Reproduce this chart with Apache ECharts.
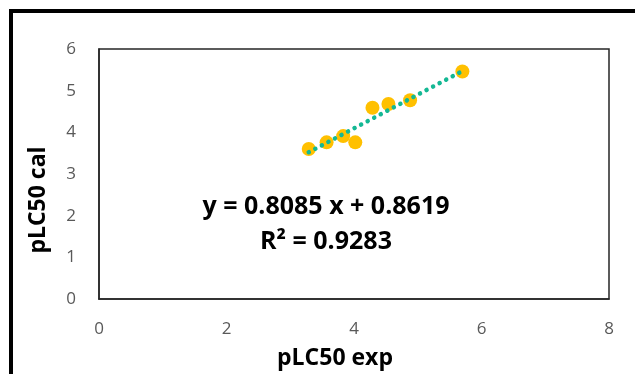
<!DOCTYPE html>
<html>
<head>
<meta charset="utf-8">
<script src="https://cdn.jsdelivr.net/npm/echarts@6/dist/echarts.min.js"></script>
<style>
  html, body { margin: 0; padding: 0; background: #fff; overflow: hidden; }
  #chart { width: 635px; height: 374px; }
</style>
</head>
<body>
<div id="chart"></div>
<script>
// Experimental vs calculated pLC50 values
const pLC50Exp = [3.29, 3.57, 3.83, 4.02, 4.29, 4.54, 4.88, 5.70];
const pLC50Cal = [3.60, 3.76, 3.91, 3.76, 4.59, 4.68, 4.77, 5.46];

// Linear fit reported on the chart
const fitSlope = 0.8085;
const fitIntercept = 0.8619;
const fitR2 = 0.9283;

const xTicks = [0, 2, 4, 6, 8];
const yTicks = [0, 1, 2, 3, 4, 5, 6];

const xTitle = 'pLC50 exp';
const yTitle = 'pLC50 cal';

const points = pLC50Exp.map((x, i) => [x, pLC50Cal[i]]);
const xMin = Math.min(...pLC50Exp);
const xMax = Math.max(...pLC50Exp);
const fitLine = [xMin, xMax].map(x => [x, fitSlope * x + fitIntercept]);

const chart = echarts.init(document.getElementById('chart'), null, { renderer: 'canvas' });

const tickFont = { color: '#595959', fontSize: 17, fontFamily: 'Open Sans' };
const titleFont = 'bold 23px "Open Sans"';
const fitFont = 'bold 25px "Open Sans"';

chart.setOption({
  animation: false,
  backgroundColor: '#ffffff',
  grid: {
    left: 99, top: 49, right: 26, bottom: 75,
    show: true, borderColor: '#262626', borderWidth: 1.5
  },
  xAxis: {
    type: 'value',
    min: xTicks[0], max: xTicks[xTicks.length - 1], interval: 2,
    axisLine: { show: true, lineStyle: { color: '#262626', width: 1.5 } },
    axisTick: { show: false },
    splitLine: { show: false },
    axisLabel: Object.assign({ margin: 22 }, tickFont)
  },
  yAxis: {
    type: 'value',
    min: yTicks[0], max: yTicks[yTicks.length - 1], interval: 1,
    axisLine: { show: true, lineStyle: { color: '#262626', width: 1.5 } },
    axisTick: { show: false },
    splitLine: { show: false },
    axisLabel: Object.assign({ margin: 23 }, tickFont)
  },
  graphic: [
    {
      type: 'rect', silent: true,
      shape: { x: 11, y: 11, width: 800, height: 600 },
      style: { fill: 'none', stroke: '#000', lineWidth: 4 }
    },
    {
      type: 'text', silent: true,
      x: 326, y: 207,
      style: {
        text: 'y = ' + fitSlope.toFixed(4) + ' x + ' + fitIntercept.toFixed(4),
        fill: '#000', font: fitFont, align: 'center', verticalAlign: 'middle'
      }
    },
    {
      type: 'text', silent: true,
      x: 326, y: 242,
      style: {
        text: 'R² = ' + fitR2.toFixed(4),
        fill: '#000', font: fitFont, align: 'center', verticalAlign: 'middle'
      }
    },
    {
      type: 'text', silent: true,
      x: 335, y: 358,
      style: { text: xTitle, fill: '#000', font: titleFont, align: 'center', verticalAlign: 'middle' }
    },
    {
      type: 'text', silent: true,
      x: 38, y: 200, rotation: Math.PI / 2,
      style: { text: yTitle, fill: '#000', font: titleFont, align: 'center', verticalAlign: 'middle' }
    }
  ],
  series: [
    {
      type: 'scatter',
      data: points,
      symbol: 'circle',
      symbolSize: 14,
      itemStyle: { color: '#FFC000', opacity: 1 },
      z: 2
    },
    {
      type: 'line',
      data: fitLine,
      showSymbol: false,
      lineStyle: { color: '#14B894', width: 4.5, type: [0.1, 7.3], cap: 'round' },
      z: 3
    }
  ]
});
</script>
</body>
</html>
